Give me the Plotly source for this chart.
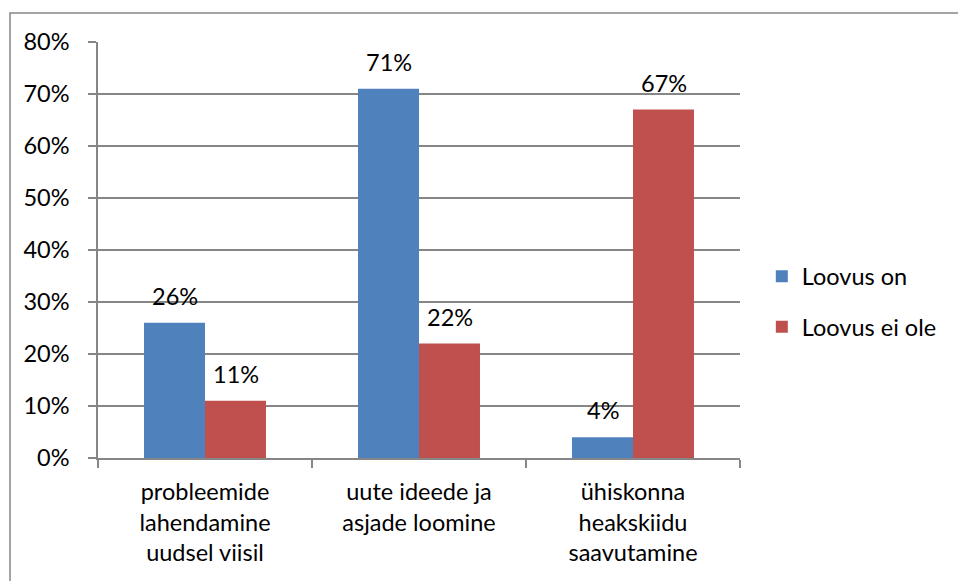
import plotly.graph_objects as go

categories = ["probleemide<br>lahendamine<br>uudsel viisil",
              "uute ideede ja<br>asjade loomine",
              "ühiskonna<br>heakskiidu<br>saavutamine"]
loovus_on = [0.26, 0.71, 0.04]
loovus_ei_ole = [0.11, 0.22, 0.67]
y_ticks = [0, 0.1, 0.2, 0.3, 0.4, 0.5, 0.6, 0.7, 0.8]

FONT = "Lato"
FS = 23.5
fig = go.Figure()
fig.add_bar(x=categories, y=loovus_on, name="Loovus on", marker_color="#4F81BD",
            legendgroup="a")
fig.add_bar(x=categories, y=loovus_ei_ole, name="Loovus ei ole", marker_color="#C0504D",
            legendgroup="b")
fig.update_traces(marker_line_width=0)

annotations = []
for vals, dx in ((loovus_on, -30.5), (loovus_ei_ole, 30.5)):
    for c, v in zip(categories, vals):
        annotations.append(dict(x=c, y=v, xref="x", yref="y", text=f"{v:.0%}",
                                showarrow=False, xshift=dx, yshift=27,
                                yanchor="middle",
                                font=dict(family=FONT, size=FS, color="black")))

fig.update_layout(
    width=958, height=581,
    margin=dict(l=98, r=218, t=42, b=123),
    paper_bgcolor="white", plot_bgcolor="white",
    font=dict(family=FONT, size=FS, color="black"),
    barmode="group", bargap=0.43, bargroupgap=0,
    showlegend=True,
    legend=dict(x=1.034, y=0.375, yanchor="middle", xanchor="left",
                tracegroupgap=17, font=dict(family=FONT, size=FS),
                itemwidth=30),
    xaxis=dict(showline=True, linecolor="#868686", linewidth=1.5,
               ticks="outside", tickson="boundaries", ticklen=8,
               tickcolor="#868686", tickwidth=1.5, showgrid=False,
               ticklabelstandoff=12),
    yaxis=dict(range=[0, 0.8], tickvals=y_ticks, tickformat=".0%",
               showgrid=True, gridcolor="#868686", gridwidth=1.5,
               showline=True, linecolor="#868686", linewidth=1.5,
               ticks="outside", ticklen=8, tickcolor="#868686", tickwidth=1.5,
               zeroline=False, ticklabelstandoff=14),
    annotations=annotations,
    shapes=[dict(type="rect", xref="paper", yref="paper",
                 x0=(10 - 98) / 642, x1=2, y0=-1, y1=(458 - 13) / 416,
                 line=dict(color="#868686", width=1.5), fillcolor="rgba(0,0,0,0)",
                 layer="below")],
)

fig.write_html("out.html", config={"displayModeBar": False},
               post_script="document.body.style.margin='0';")
